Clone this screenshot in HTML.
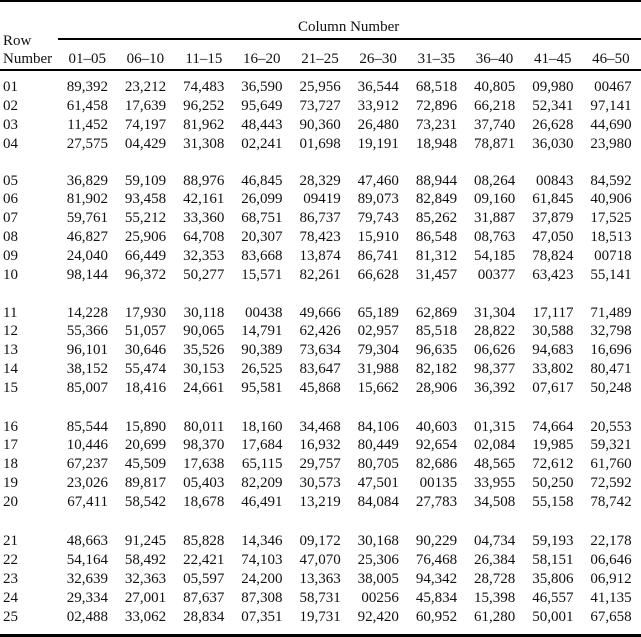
<!DOCTYPE html>
<html><head><meta charset="utf-8"><style>
body{margin:0;width:641px;height:637px;background:#fff;position:relative;overflow:hidden;font-family:"Liberation Serif",serif;font-size:15px;color:#111}
.r{position:absolute;left:3px;height:19px;line-height:19px;white-space:nowrap}
.r span{display:inline-block;width:58.2px;text-align:right;box-sizing:border-box}
.r span:first-child{width:46.8px;text-align:left}
.h span{padding-right:2px}
.l{position:absolute;background:#000}
</style></head><body>
<div class="l" style="left:0;top:0;width:641px;height:2px"></div>
<div style="position:absolute;left:298px;top:18px;line-height:19px">Column Number</div>
<div class="l" style="left:58px;top:38px;width:583px;height:1.5px"></div>
<div style="position:absolute;left:3px;top:32px;line-height:19px">Row</div>
<div class="r h" style="top:50px"><span>Number</span><span>01–05</span><span>06–10</span><span>11–15</span><span>16–20</span><span>21–25</span><span>26–30</span><span>31–35</span><span>36–40</span><span>41–45</span><span>46–50</span></div>
<div class="l" style="left:0;top:69px;width:641px;height:2px"></div>

<div class="r" style="top:77.5px"><span>01</span><span>89,392</span><span>23,212</span><span>74,483</span><span>36,590</span><span>25,956</span><span>36,544</span><span>68,518</span><span>40,805</span><span>09,980</span><span>00467</span></div>
<div class="r" style="top:96.5px"><span>02</span><span>61,458</span><span>17,639</span><span>96,252</span><span>95,649</span><span>73,727</span><span>33,912</span><span>72,896</span><span>66,218</span><span>52,341</span><span>97,141</span></div>
<div class="r" style="top:115.5px"><span>03</span><span>11,452</span><span>74,197</span><span>81,962</span><span>48,443</span><span>90,360</span><span>26,480</span><span>73,231</span><span>37,740</span><span>26,628</span><span>44,690</span></div>
<div class="r" style="top:134.5px"><span>04</span><span>27,575</span><span>04,429</span><span>31,308</span><span>02,241</span><span>01,698</span><span>19,191</span><span>18,948</span><span>78,871</span><span>36,030</span><span>23,980</span></div>

<div class="r" style="top:171.5px"><span>05</span><span>36,829</span><span>59,109</span><span>88,976</span><span>46,845</span><span>28,329</span><span>47,460</span><span>88,944</span><span>08,264</span><span>00843</span><span>84,592</span></div>
<div class="r" style="top:190.4px"><span>06</span><span>81,902</span><span>93,458</span><span>42,161</span><span>26,099</span><span>09419</span><span>89,073</span><span>82,849</span><span>09,160</span><span>61,845</span><span>40,906</span></div>
<div class="r" style="top:209.3px"><span>07</span><span>59,761</span><span>55,212</span><span>33,360</span><span>68,751</span><span>86,737</span><span>79,743</span><span>85,262</span><span>31,887</span><span>37,879</span><span>17,525</span></div>
<div class="r" style="top:228.2px"><span>08</span><span>46,827</span><span>25,906</span><span>64,708</span><span>20,307</span><span>78,423</span><span>15,910</span><span>86,548</span><span>08,763</span><span>47,050</span><span>18,513</span></div>
<div class="r" style="top:247.1px"><span>09</span><span>24,040</span><span>66,449</span><span>32,353</span><span>83,668</span><span>13,874</span><span>86,741</span><span>81,312</span><span>54,185</span><span>78,824</span><span>00718</span></div>
<div class="r" style="top:266px"><span>10</span><span>98,144</span><span>96,372</span><span>50,277</span><span>15,571</span><span>82,261</span><span>66,628</span><span>31,457</span><span>00377</span><span>63,423</span><span>55,141</span></div>

<div class="r" style="top:303.5px"><span>11</span><span>14,228</span><span>17,930</span><span>30,118</span><span>00438</span><span>49,666</span><span>65,189</span><span>62,869</span><span>31,304</span><span>17,117</span><span>71,489</span></div>
<div class="r" style="top:322.4px"><span>12</span><span>55,366</span><span>51,057</span><span>90,065</span><span>14,791</span><span>62,426</span><span>02,957</span><span>85,518</span><span>28,822</span><span>30,588</span><span>32,798</span></div>
<div class="r" style="top:341.3px"><span>13</span><span>96,101</span><span>30,646</span><span>35,526</span><span>90,389</span><span>73,634</span><span>79,304</span><span>96,635</span><span>06,626</span><span>94,683</span><span>16,696</span></div>
<div class="r" style="top:360.2px"><span>14</span><span>38,152</span><span>55,474</span><span>30,153</span><span>26,525</span><span>83,647</span><span>31,988</span><span>82,182</span><span>98,377</span><span>33,802</span><span>80,471</span></div>
<div class="r" style="top:379.1px"><span>15</span><span>85,007</span><span>18,416</span><span>24,661</span><span>95,581</span><span>45,868</span><span>15,662</span><span>28,906</span><span>36,392</span><span>07,617</span><span>50,248</span></div>

<div class="r" style="top:417.5px"><span>16</span><span>85,544</span><span>15,890</span><span>80,011</span><span>18,160</span><span>34,468</span><span>84,106</span><span>40,603</span><span>01,315</span><span>74,664</span><span>20,553</span></div>
<div class="r" style="top:436.4px"><span>17</span><span>10,446</span><span>20,699</span><span>98,370</span><span>17,684</span><span>16,932</span><span>80,449</span><span>92,654</span><span>02,084</span><span>19,985</span><span>59,321</span></div>
<div class="r" style="top:455.3px"><span>18</span><span>67,237</span><span>45,509</span><span>17,638</span><span>65,115</span><span>29,757</span><span>80,705</span><span>82,686</span><span>48,565</span><span>72,612</span><span>61,760</span></div>
<div class="r" style="top:474.2px"><span>19</span><span>23,026</span><span>89,817</span><span>05,403</span><span>82,209</span><span>30,573</span><span>47,501</span><span>00135</span><span>33,955</span><span>50,250</span><span>72,592</span></div>
<div class="r" style="top:493.1px"><span>20</span><span>67,411</span><span>58,542</span><span>18,678</span><span>46,491</span><span>13,219</span><span>84,084</span><span>27,783</span><span>34,508</span><span>55,158</span><span>78,742</span></div>

<div class="r" style="top:532px"><span>21</span><span>48,663</span><span>91,245</span><span>85,828</span><span>14,346</span><span>09,172</span><span>30,168</span><span>90,229</span><span>04,734</span><span>59,193</span><span>22,178</span></div>
<div class="r" style="top:550.9px"><span>22</span><span>54,164</span><span>58,492</span><span>22,421</span><span>74,103</span><span>47,070</span><span>25,306</span><span>76,468</span><span>26,384</span><span>58,151</span><span>06,646</span></div>
<div class="r" style="top:569.8px"><span>23</span><span>32,639</span><span>32,363</span><span>05,597</span><span>24,200</span><span>13,363</span><span>38,005</span><span>94,342</span><span>28,728</span><span>35,806</span><span>06,912</span></div>
<div class="r" style="top:588.7px"><span>24</span><span>29,334</span><span>27,001</span><span>87,637</span><span>87,308</span><span>58,731</span><span>00256</span><span>45,834</span><span>15,398</span><span>46,557</span><span>41,135</span></div>
<div class="r" style="top:607.6px"><span>25</span><span>02,488</span><span>33,062</span><span>28,834</span><span>07,351</span><span>19,731</span><span>92,420</span><span>60,952</span><span>61,280</span><span>50,001</span><span>67,658</span></div>

<div class="l" style="left:0;top:634px;width:641px;height:3px"></div>
</body></html>
